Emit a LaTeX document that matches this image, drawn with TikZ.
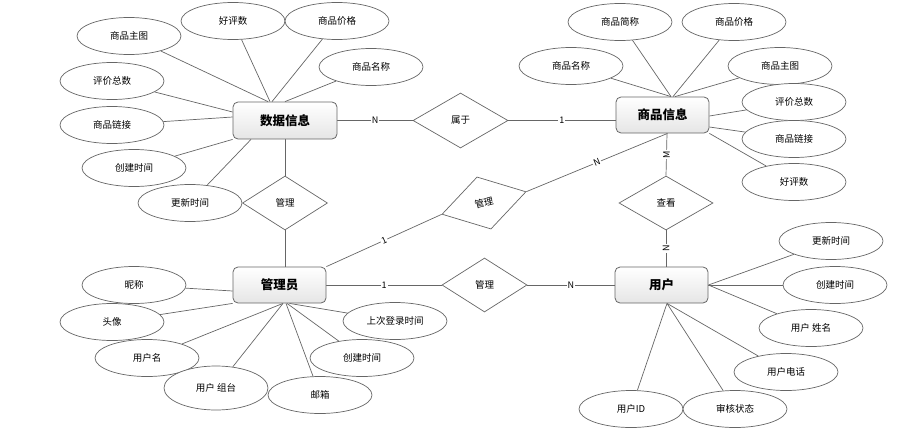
\documentclass[tikz,border=0pt]{standalone}
\usepackage{fontspec}
\setmainfont{Noto Sans CJK SC}
\usetikzlibrary{shapes.geometric,backgrounds}
\definecolor{ln}{HTML}{666666}
\begin{document}
\begin{tikzpicture}[x=1pt,y=-1pt,
  every node/.style={font=\fontsize{9.5}{11}\selectfont, text=black},
  ent/.style={rectangle, rounded corners=5pt, draw=ln, line width=0.8pt, top color=white, bottom color=black!10, minimum width=93pt, minimum height=36pt, inner sep=0pt, font=\fontsize{12.5}{14}\selectfont\bfseries},
  attr/.style={ellipse, draw=ln, fill=white, line width=0.7pt, minimum width=104pt, minimum height=37pt, inner sep=0pt},
  rel/.style={diamond, draw=ln, fill=white, line width=0.7pt, inner sep=0pt, minimum width=85pt, minimum height=54pt},
  conn/.style={draw=ln, line width=0.7pt},
  card/.style={fill=white, inner sep=1pt, font=\fontsize{9}{10}\selectfont}]
\useasboundingbox (0,0) rectangle (907,439);
% entities
\node[ent, minimum width=104pt, minimum height=37pt] (sjxx) at (285,120.5) {数据信息};
\node[ent] (spxx) at (662.5,115) {商品信息};
\node[ent] (gly) at (279.5,285) {管理员};
\node[ent] (yh) at (661.5,285) {用户};
% relationships
\node[rel, minimum width=95pt, minimum height=55pt] (sy) at (460.5,120.5) {属于};
\node[rel] (gl1) at (285,203) {管理};
\node[rel, rotate=15, minimum width=87pt] (gl2) at (484,203) {管理};
\node[rel, minimum width=94pt] (ck) at (666,203) {查看};
\node[rel] (gl3) at (484.5,285) {管理};
% attributes of 数据信息
\node[attr] (a1) at (129,36) {商品主图};
\node[attr] (a2) at (233,21) {好评数};
\node[attr] (a3) at (337,21) {商品价格};
\node[attr] (a4) at (371,67) {商品名称};
\node[attr] (a5) at (112,81) {评价总数};
\node[attr] (a6) at (112,125) {商品链接};
\node[attr] (a7) at (134,168) {创建时间};
\node[attr] (a8) at (190,203) {更新时间};
% attributes of 商品信息
\node[attr] (b1) at (620,22) {商品简称};
\node[attr] (b2) at (734,22) {商品价格};
\node[attr] (b3) at (571,66) {商品名称};
\node[attr] (b4) at (780,66) {商品主图};
\node[attr] (b5) at (794,102) {评价总数};
\node[attr] (b6) at (794,139) {商品链接};
\node[attr] (b7) at (794,182) {好评数};
% attributes of 管理员
\node[attr] (c1) at (134,285) {昵称};
\node[attr] (c2) at (112,322) {头像};
\node[attr] (c3) at (147,358) {用户名};
\node[attr, minimum height=44pt] (c4) at (216,388) {用户 组台};
\node[attr] (c5) at (320,395) {邮箱};
\node[attr] (c6) at (362,358) {创建时间};
\node[attr] (c7) at (395,321) {上次登录时间};
% attributes of 用户
\node[attr] (d1) at (831,241) {更新时间};
\node[attr] (d2) at (835,285) {创建时间};
\node[attr] (d3) at (811,328) {用户 姓名};
\node[attr] (d4) at (786,372) {用户电话};
\node[attr] (d5) at (631,409) {用户ID};
\node[attr] (d6) at (735,409) {审核状态};
\begin{scope}[on background layer]
% relationship lines
\draw[conn] (sjxx.east) -- node[card] {N} (sy.west);
\draw[conn] (sy.east) -- node[card] {1} (sy.east -| spxx.west);
\draw[conn] (sjxx.south) -- (gl1.north);
\draw[conn] (gl1.south) -- (gl1.south |- gly.north);
\draw[conn] (gly.north east) -- node[card, sloped] {1} (gl2.west);
\draw[conn] (gl2.east) -- node[card, sloped] {N} ([xshift=5pt]spxx.south);
\draw[conn] ([xshift=4.5pt]spxx.south) -- node[card, rotate=90] {M} (ck.north);
\draw[conn] (ck.south) -- node[card, rotate=90] {N} ([xshift=4.5pt]yh.north);
\draw[conn] (gly.east) -- node[card] {1} (gl3.west);
\draw[conn] (gl3.east) -- node[card] {N} (yh.west);
% 数据信息 attributes
\draw[conn] (a1) -- ([xshift=-17pt]sjxx.north);
\draw[conn] (a2) -- ([xshift=-15pt]sjxx.north);
\draw[conn] (a3) -- ([xshift=-13pt]sjxx.north);
\draw[conn] (a4) -- (sjxx.north);
\draw[conn] (a5) -- ([yshift=8.5pt]sjxx.west);
\draw[conn] (a6) -- ([yshift=3.5pt]sjxx.west);
\draw[conn] (a7) -- (sjxx.south west);
\draw[conn] (a8) -- ([xshift=-34pt]sjxx.south);
% 商品信息 attributes
\draw[conn] (b1) -- ([xshift=8.5pt]spxx.north);
\draw[conn] (b3) -- ([xshift=8.5pt]spxx.north);
\draw[conn] (b2) -- ([xshift=10.5pt]spxx.north);
\draw[conn] (b4) -- ([xshift=12.5pt]spxx.north);
\draw[conn] (b5) -- ([yshift=-1pt]spxx.east);
\draw[conn] (b6) -- ([yshift=-12pt]spxx.east);
\draw[conn] (b7) -- (spxx.south east);
% 管理员 attributes
\draw[conn] (c1) -- ([yshift=-6pt]gly.west);
\draw[conn] (c2) -- (gly.south west);
\draw[conn] (c3) -- ([xshift=3.5pt]gly.south);
\draw[conn] (c4) -- ([xshift=3.5pt]gly.south);
\draw[conn] (c5) -- ([xshift=6.5pt]gly.south);
\draw[conn] (c6) -- ([xshift=7.5pt]gly.south);
\draw[conn] (c7) -- ([xshift=10pt]gly.south);
% 用户 attributes
\draw[conn] (d1) -- (yh.east);
\draw[conn] (d2) -- (yh.east);
\draw[conn] (d3) -- (yh.east);
\draw[conn] (d4) -- ([xshift=5.5pt]yh.south);
\draw[conn] (d5) -- ([xshift=5.5pt]yh.south);
\draw[conn] (d6) -- ([xshift=5.5pt]yh.south);
\end{scope}
\end{tikzpicture}
\end{document}
